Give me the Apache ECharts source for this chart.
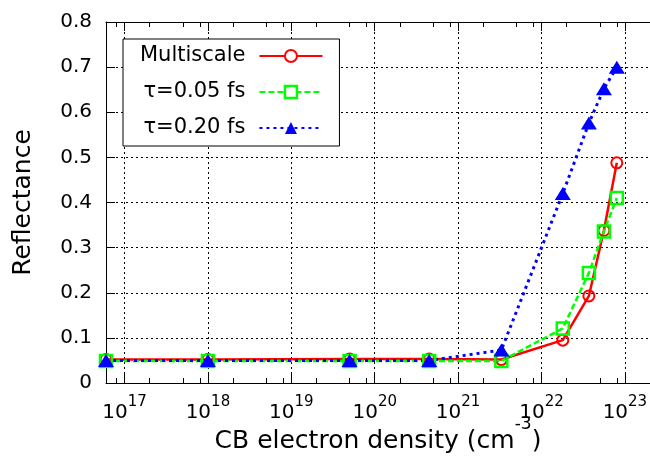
<!DOCTYPE html>
<html>
<head>
<meta charset="utf-8">
<script src="https://cdn.jsdelivr.net/npm/echarts@6/dist/echarts.min.js"></script>
<style>
  html, body { margin: 0; padding: 0; background: #fff; }
  #main { width: 650px; height: 460px; }
</style>
</head>
<body>
<div id="main"></div>
<script>
// data
var density = [6e16, 1e18, 5e19, 4.5e20, 3.3e21, 1.8e22, 3.7e22, 5.6e22, 8e22];
var multiscale = [0.052, 0.052, 0.053, 0.053, 0.052, 0.095, 0.193, 0.338, 0.488];
var tau005 = [0.049, 0.049, 0.049, 0.049, 0.049, 0.121, 0.244, 0.336, 0.410];
var tau020 = [0.050, 0.050, 0.050, 0.050, 0.073, 0.420, 0.576, 0.652, 0.700];
var names = ['Multiscale', 'τ=0.05 fs', 'τ=0.20 fs'];
var minorTicks = [8e16, 2e17, 5e17, 8e17, 2e18, 5e18, 8e18, 2e19, 5e19, 8e19,
  2e20, 5e20, 8e20, 2e21, 5e21, 8e21, 2e22, 5e22, 8e22];

var FONT = 'DejaVu Sans';
var xMin = 6e16, xMax = 2e23;

function pairs(ys) {
  return density.map(function (x, i) { return [x, ys[i]]; });
}

var gridLine = { show: true, lineStyle: { color: '#000', width: 1, type: [2, 3] } };

function extraX(pos, len, custom, showLine) {
  return {
    type: 'log', position: pos, min: xMin, max: xMax,
    axisLine: { show: showLine, onZero: false, lineStyle: { color: '#000', width: 1 } },
    axisTick: custom ? { inside: true, length: len, customValues: custom, lineStyle: { color: '#000' } }
                     : { inside: true, length: len, lineStyle: { color: '#000' } },
    axisLabel: { show: false },
    splitLine: { show: false }
  };
}

var chart = echarts.init(document.getElementById('main'));
var option = {
  animation: false,
  backgroundColor: '#fff',
  textStyle: { fontFamily: FONT, color: '#000' },
  grid: { left: 106, top: 22, right: 0, bottom: 77, outerBoundsMode: 'none' },
  legend: {
    orient: 'vertical',
    left: 123, top: 39,
    align: 'right',
    padding: [5, 16, 6, 17],
    itemGap: 12,
    itemWidth: 63,
    itemHeight: 15,
    backgroundColor: '#fff',
    borderColor: '#000',
    borderWidth: 1,
    borderRadius: 0,
    textStyle: { fontFamily: FONT, fontSize: 21, color: '#000', lineHeight: 24, padding: [0, 9, 0, 0] },
    data: [
      { name: names[0], itemStyle: { color: '#fff', borderColor: '#ff0000', borderWidth: 2 } },
      { name: names[1], itemStyle: { color: '#fff', borderColor: '#00ff00', borderWidth: 2.5 } },
      { name: names[2] }
    ]
  },
  xAxis: [
    {
      type: 'log', position: 'bottom', min: xMin, max: xMax,
      name: '{n|CB electron density (cm}{p|-3}{n|)}',
      nameLocation: 'middle',
      nameGap: 33,
      nameMoveOverlap: false,
      nameTextStyle: {
        rich: {
          n: { fontFamily: FONT, fontSize: 25, color: '#000', lineHeight: 38, verticalAlign: 'bottom' },
          p: { fontFamily: FONT, fontSize: 17, color: '#000', lineHeight: 14, verticalAlign: 'top' }
        }
      },
      axisLine: { show: true, onZero: false, lineStyle: { color: '#000', width: 1 } },
      axisTick: { inside: true, length: 9, lineStyle: { color: '#000' } },
      axisLabel: {
        margin: 12,
        formatter: function (v) {
          var l = Math.log(v) / Math.LN10;
          if (Math.abs(l - Math.round(l)) > 1e-6) return '';
          return '{b|10}{s|' + Math.round(l) + '}';
        },
        rich: {
          b: { fontFamily: FONT, fontSize: 20, color: '#000', lineHeight: 28, verticalAlign: 'bottom' },
          s: { fontFamily: FONT, fontSize: 15, color: '#000', lineHeight: 16, verticalAlign: 'top' }
        }
      },
      splitLine: gridLine
    },
    extraX('bottom', 5, minorTicks, false),
    extraX('top', 9, null, true),
    extraX('top', 5, minorTicks, false)
  ],
  yAxis: {
    type: 'value', min: 0, max: 0.8, interval: 0.1,
    name: 'Reflectance',
    nameLocation: 'middle',
    nameGap: 70,
    nameMoveOverlap: false,
    nameTextStyle: { fontFamily: FONT, fontSize: 25, color: '#000' },
    axisLine: { show: true, onZero: false, lineStyle: { color: '#000', width: 1 } },
    axisTick: { inside: true, length: 9, lineStyle: { color: '#000' } },
    axisLabel: {
      margin: 14, fontFamily: FONT, fontSize: 20, color: '#000',
      formatter: function (v) { return v === 0 ? '0' : v.toFixed(1); }
    },
    splitLine: gridLine
  },
  series: [
    {
      name: names[0], type: 'line', data: pairs(multiscale),
      symbol: 'circle', symbolSize: 11,
      itemStyle: { color: 'rgba(0,0,0,0)', borderColor: '#ff0000', borderWidth: 2 },
      lineStyle: { color: '#ff0000', width: 2.5 }
    },
    {
      name: names[1], type: 'line', data: pairs(tau005),
      symbol: 'rect', symbolSize: 12,
      itemStyle: { color: 'rgba(0,0,0,0)', borderColor: '#00ff00', borderWidth: 2.5 },
      lineStyle: { color: '#00ff00', width: 2.5, type: [6, 3] }
    },
    {
      name: names[2], type: 'line', data: pairs(tau020),
      symbol: 'triangle', symbolSize: [16, 13],
      itemStyle: { color: '#0000ff' },
      lineStyle: { color: '#0000ff', width: 3, type: [3, 4] }
    }
  ]
};
chart.setOption(option);
</script>
</body>
</html>
